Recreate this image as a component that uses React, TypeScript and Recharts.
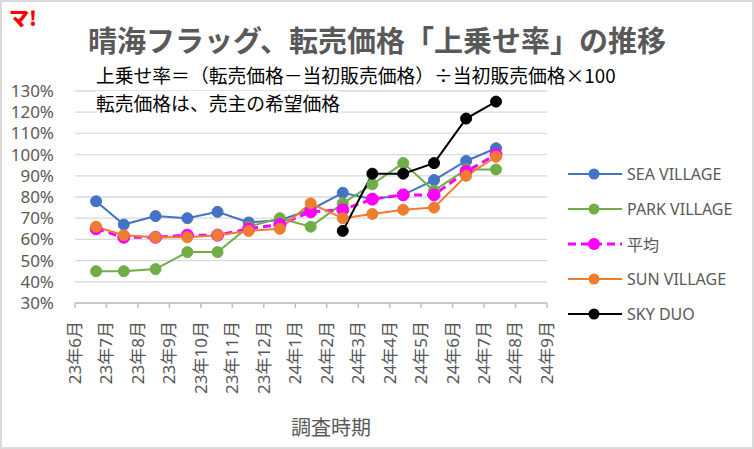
import React from "react";
import { LineChart, Line, XAxis, YAxis, CartesianGrid } from "recharts";

// x = survey date as position on the month axis (0 = 23年6月 tick)
const surveyPos = [0.67, 1.55, 2.56, 3.57, 4.53, 5.52, 6.51, 7.49, 8.51, 9.45, 10.43, 11.41, 12.43, 13.38];
const monthLabels = [
  "23年6月", "23年7月", "23年8月", "23年9月", "23年10月", "23年11月", "23年12月", "24年1月",
  "24年2月", "24年3月", "24年4月", "24年5月", "24年6月", "24年7月", "24年8月", "24年9月",
];
const seaVillage = [78, 67, 71, 70, 73, 68, 69, 74, 82, 79, 81, 88, 97, 103];
const parkVillage = [45, 45, 46, 54, 54, 66, 70, 66, 77, 86, 96, 83, 93, 93];
const average = [65, 61, 61, 62, 62, 65, 67, 73, 74, 79, 81, 81, 92, 100];
const sunVillage = [66, 62, 61, 61, 62, 64, 65, 77, 70, 72, 74, 75, 90, 99];
const skyDuo = [null, null, null, null, null, null, null, null, 64, 91, 91, 96, 117, 125];
const yTicks = [30, 40, 50, 60, 70, 80, 90, 100, 110, 120, 130];

const data = surveyPos.map((x, i) => ({
  x,
  sea: seaVillage[i],
  park: parkVillage[i],
  avg: average[i],
  sun: sunVillage[i],
  sky: skyDuo[i],
}));

const series = [
  { key: "sea", name: "SEA VILLAGE", color: "#4472C4", dash: undefined, width: 2, r: 5.5 },
  { key: "park", name: "PARK VILLAGE", color: "#70AD47", dash: undefined, width: 2, r: 5.5 },
  { key: "avg", name: "平均", color: "#FF00FF", dash: "8 5", width: 3, r: 6 },
  { key: "sun", name: "SUN VILLAGE", color: "#ED7D31", dash: undefined, width: 2, r: 5.5 },
  { key: "sky", name: "SKY DUO", color: "#000000", dash: undefined, width: 2, r: 5.5 },
];

const FONT = "'Noto Sans', 'Noto Sans CJK JP', sans-serif";
const JP = "'Noto Sans CJK JP', sans-serif";
const GREY = "#595959";

const MonthTick = ({ x, y, payload }: any) => (
  <g transform={`translate(${x},${y})`}>
    <text
      transform="rotate(-90)"
      x={-11}
      y={0}
      dy="0.35em"
      textAnchor="end"
      fill={GREY}
      fontSize={17}
      fontFamily={FONT}
    >
      {monthLabels[payload.value]}
    </text>
  </g>
);

const ChartLegend = () => (
  <div style={{ position: "absolute", left: 566, top: 156 }}>
    {series.map((s) => (
      <div key={s.key} style={{ display: "flex", alignItems: "center", height: 35.2 }}>
        <svg width={60} height={16}>
          <line x1={2} y1={8} x2={56} y2={8} stroke={s.color} strokeWidth={s.width} strokeDasharray={s.dash} />
          <circle cx={28} cy={8} r={s.r} fill={s.color} />
        </svg>
        <span style={{ fontSize: 16, color: GREY, fontFamily: FONT, marginLeft: 1 }}>{s.name}</span>
      </div>
    ))}
  </div>
);

export default function App() {
  return (
    <div
      style={{
        position: "absolute",
        left: 0,
        top: 0,
        width: 754,
        height: 449,
        background: "#fff",
        fontFamily: FONT,
      }}
    >
      <LineChart width={754} height={449} data={data} margin={{ top: 91, right: 207, bottom: 0, left: 0 }}>
        <CartesianGrid horizontal vertical={false} stroke="#d9d9d9" strokeWidth={1.3} />
        <XAxis
          dataKey="x"
          type="number"
          domain={[0, 15]}
          ticks={monthLabels.map((_, i) => i)}
          interval={0}
          height={146}
          stroke="#bfbfbf"
          strokeWidth={1.5}
          tickSize={5}
          tick={<MonthTick />}
          label={{ value: "調査時期", position: "insideBottom", offset: 14, dx: 20, fill: GREY, fontSize: 20, fontFamily: FONT }}
        />
        <YAxis
          type="number"
          domain={[30, 130]}
          ticks={yTicks}
          interval={0}
          width={75}
          axisLine={false}
          tickLine={false}
          tickMargin={15}
          tickFormatter={(v: number) => `${v}%`}
          tick={{ fill: GREY, fontSize: 17, fontFamily: FONT }}
        />
        {series.map((s) => (
          <Line
            key={s.key}
            dataKey={s.key}
            name={s.name}
            stroke={s.color}
            strokeWidth={s.width}
            strokeDasharray={s.dash}
            dot={{ r: s.r, fill: s.color, stroke: s.color, strokeWidth: 1, strokeDasharray: "none" }}
            activeDot={false}
            isAnimationActive={false}
          />
        ))}
      </LineChart>

      <ChartLegend />

      <div
        style={{
          position: "absolute",
          left: 9,
          top: 4,
          color: "#ff0000",
          fontWeight: 900,
          fontSize: 20,
          lineHeight: "28px",
          fontFamily: JP,
        }}
      >
        マ!
      </div>
      <div
        style={{
          position: "absolute",
          left: 0,
          width: 754,
          top: 21,
          textAlign: "center",
          fontSize: 29,
          fontWeight: 700,
          color: GREY,
          lineHeight: "36px",
          fontFamily: JP,
        }}
      >
        晴海フラッグ、転売価格「上乗せ率」の推移
      </div>
      <div
        style={{
          position: "absolute",
          left: 96,
          top: 63,
          fontSize: 18.8,
          lineHeight: "24px",
          color: "#000",
          background: "#fff",
          fontFamily: JP,
        }}
      >
        上乗せ率＝（転売価格－当初販売価格）÷当初販売価格×100
      </div>
      <div
        style={{
          position: "absolute",
          left: 96,
          top: 91,
          fontSize: 18.8,
          lineHeight: "24px",
          color: "#000",
          background: "#fff",
          fontFamily: JP,
        }}
      >
        転売価格は、売主の希望価格
      </div>
      <div
        style={{
          position: "absolute",
          left: 0,
          top: 0,
          width: 754,
          height: 449,
          boxSizing: "border-box",
          border: "2px solid #d9d9d9",
          pointerEvents: "none",
        }}
      />
    </div>
  );
}
